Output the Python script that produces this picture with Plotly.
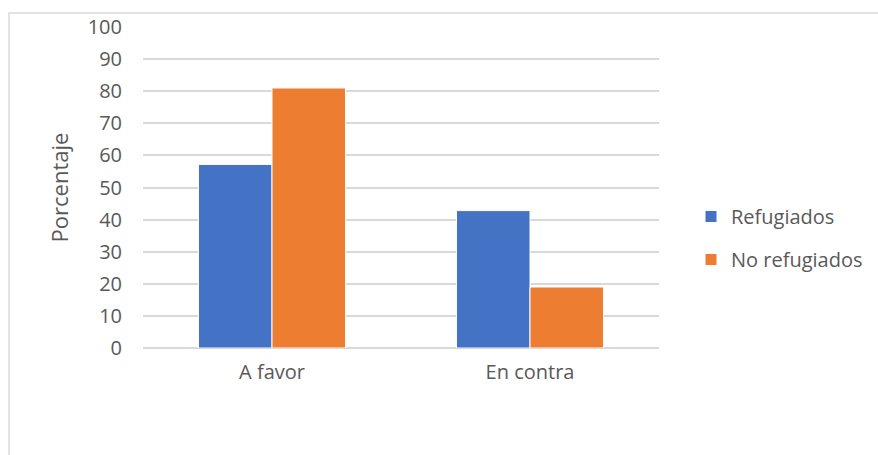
import plotly.graph_objects as go

categories = ["A favor", "En contra"]
refugiados = [57.2, 42.8]
no_refugiados = [81.0, 19.0]
y_ticks = [0, 10, 20, 30, 40, 50, 60, 70, 80, 90, 100]

FONT = "Open Sans, Liberation Sans, sans-serif"
TEXT = "#595959"
GRID = "#d9d9d9"

fig = go.Figure()
fig.add_trace(go.Bar(
    x=categories, y=refugiados, name="Refugiados", legendgroup="a",
    marker=dict(color="#4472c4", line=dict(color="white", width=1)),
))
fig.add_trace(go.Bar(
    x=categories, y=no_refugiados, name="No refugiados", legendgroup="b",
    marker=dict(color="#ed7d31", line=dict(color="white", width=1)),
))

L, R, T, B = 143, 219, 27, 107
W, H = 878, 455
pw, ph = W - L - R, H - T - B

# outer chart frame
fig.add_shape(
    type="rect", xref="paper", yref="paper",
    x0=(9 - L) / pw, x1=(W + 5 - L) / pw,
    y0=-(H + 5 - (H - B)) / ph, y1=(H - B - 13) / ph,
    line=dict(color=GRID, width=1.5), fillcolor="rgba(0,0,0,0)", layer="below",
)

fig.update_layout(
    width=W, height=H,
    margin=dict(l=L, r=R, t=T, b=B, autoexpand=False),
    paper_bgcolor="white", plot_bgcolor="white",
    barmode="group", bargap=0.43, bargroupgap=0,
    font=dict(family=FONT, color=TEXT, size=20),
    showlegend=True,
    legend=dict(
        x=(691 - L) / pw, xanchor="left",
        y=(H - B - 238) / ph, yanchor="middle",
        font=dict(size=20, color=TEXT, family=FONT),
        tracegroupgap=14, itemwidth=30,
        bgcolor="rgba(0,0,0,0)",
    ),
    xaxis=dict(
        showgrid=False, showline=False, ticks="",
        tickfont=dict(size=20, color=TEXT), ticklabelstandoff=10,
    ),
    yaxis=dict(
        range=[0, 100], tickvals=y_ticks, showgrid=True, gridcolor=GRID, gridwidth=1.5,
        zeroline=True, zerolinecolor=GRID, zerolinewidth=1.5,
        showline=False, ticks="", ticklabelstandoff=20,
        tickfont=dict(size=20, color=TEXT),
        title=dict(text="Porcentaje", font=dict(size=22, color=TEXT), standoff=12),
    ),
)

fig.write_html("out.html")
